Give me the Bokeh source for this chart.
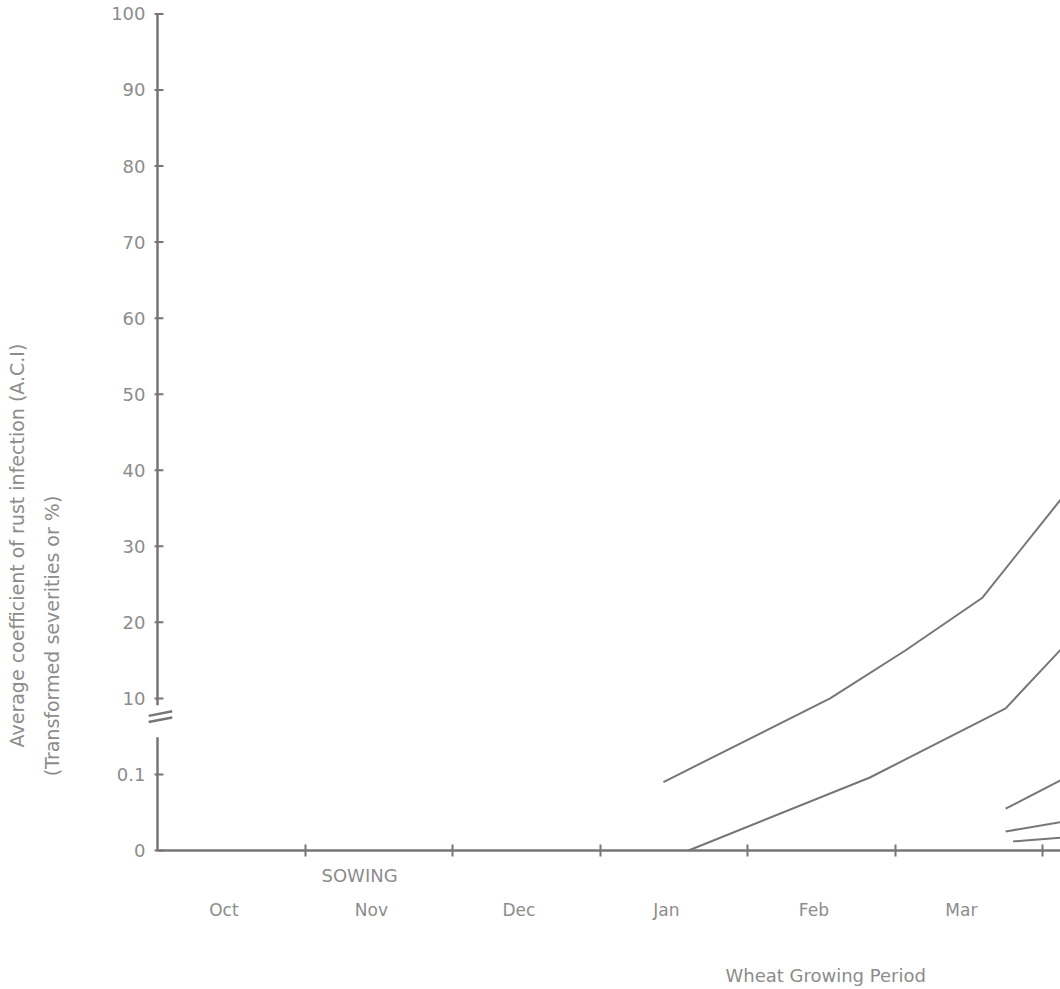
import numpy as np
from bokeh.plotting import figure
from bokeh.models import Range1d, FixedTicker, LinearAxis
from bokeh.embed import file_html
from bokeh.resources import INLINE

# ---------------- data ----------------
months = ["Oct", "Nov", "Dec", "Jan", "Feb", "Mar"]
month_bounds = [1, 2, 3, 4, 5, 6]          # month starts, in months since 1 Oct
y_tick_values = [0, 0.1, 10, 20, 30, 40, 50, 60, 70, 80, 90, 100]
y_tick_labels = ["0", "0.1", "10", "20", "30", "40", "50", "60", "70", "80", "90", "100"]
sowing_date = 1.37

s1_x = [3.43, 4.56, 5.07, 5.59, 6.20]
s1_y = [0.09, 10.0, 16.3, 23.2, 38.0]
s2_x = [3.60, 4.83, 5.75, 6.20]
s2_y = [0.0, 0.096, 8.7, 18.0]
s3_x = [5.75, 6.20]
s3_y = [0.055, 0.100]
s4_x = [5.75, 6.20]
s4_y = [0.025, 0.040]
s5_x = [5.80, 6.20]
s5_y = [0.012, 0.018]

y_title = "Average coefficient of rust infection (A.C.I)"
y_subtitle = "(Transformed severities or %)"
x_title = "Wheat Growing Period"

# broken axis: piecewise linear between the tick values
tick_index = np.arange(len(y_tick_values))
def to_disp(v):
    return np.interp(np.asarray(v, dtype=float), y_tick_values, tick_index)

GRAY = "#767676"
TXT = "#8c8c8c"
FONT = "DejaVu Sans"

X0, X1 = -0.0746, 6.122
Y0, Y1 = -0.0263, 11.045

p = figure(width=1060, height=989, x_range=Range1d(X0, X1), y_range=Range1d(Y0, Y1),
           output_backend="svg", toolbar_location=None,
           x_axis_location=None, y_axis_location=None,
           min_border_left=146, min_border_right=0, min_border_top=10, min_border_bottom=137)
p.outline_line_color = None
p.background_fill_color = "white"
p.border_fill_color = "white"
p.grid.visible = False


def label_axis(ax, size="17px"):
    ax.axis_line_color = None
    ax.major_tick_line_color = None
    ax.minor_tick_line_color = None
    ax.major_tick_in = 0
    ax.major_tick_out = 0
    ax.major_label_text_font = FONT
    ax.major_label_text_font_size = size
    ax.major_label_text_color = TXT
    return ax


# ---- axis lines drawn as glyphs (y axis has a break between 0.1 and 10)
brk_lo, brk_hi = 1.49, 1.91
top = float(tick_index[-1])
p.segment(x0=[0, 0, 0], y0=[0, brk_hi, 0], x1=[0, 0, X1], y1=[brk_lo, top, 0],
          line_color=GRAY, line_width=2.5)
p.segment(x0=[-0.06, -0.06], y0=[1.69, 1.77], x1=[0.10, 0.10], y1=[1.75, 1.83],
          line_color=GRAY, line_width=2.5)
ypos = to_disp(y_tick_values)
p.segment(x0=np.full(len(ypos), -0.02), y0=ypos, x1=np.full(len(ypos), 0.04), y1=ypos,
          line_color=GRAY, line_width=2)

# ---- y axis labels
yaxis = label_axis(LinearAxis(), "18px")
yaxis.ticker = FixedTicker(ticks=[int(t) for t in ypos])
yaxis.major_label_overrides = {int(t): lab for t, lab in zip(ypos, y_tick_labels)}
yaxis.major_label_standoff = 1
p.add_layout(yaxis, "left")

ysub = label_axis(LinearAxis(), "19px")
ysub.ticker = FixedTicker(ticks=[2.82])
ysub.major_label_overrides = {2.82: y_subtitle}
ysub.major_label_orientation = "vertical"
ysub.major_label_standoff = 45
p.add_layout(ysub, "left")

ytitle = label_axis(LinearAxis(), "19px")
ytitle.ticker = FixedTicker(ticks=[4.01])
ytitle.major_label_overrides = {4.01: y_title}
ytitle.major_label_orientation = "vertical"
ytitle.major_label_standoff = 10
p.add_layout(ytitle, "left")

# ---- x axis: tick marks at month starts, SOWING mark
xaxis = label_axis(LinearAxis(), "18px")
xaxis.ticker = FixedTicker(ticks=[sowing_date], minor_ticks=month_bounds)
xaxis.major_label_overrides = {sowing_date: "SOWING"}
xaxis.minor_tick_line_color = GRAY
xaxis.minor_tick_line_width = 2
xaxis.minor_tick_in = 8
xaxis.minor_tick_out = 4
xaxis.major_label_standoff = 8
p.add_layout(xaxis, "below")

mid = [i + 0.45 for i in range(len(months))]
xmonths = label_axis(LinearAxis(), "17px")
xmonths.ticker = FixedTicker(ticks=mid)
xmonths.major_label_overrides = {m: name for m, name in zip(mid, months)}
xmonths.major_label_standoff = 11
p.add_layout(xmonths, "below")

xtitle = label_axis(LinearAxis(), "18px")
xtitle.ticker = FixedTicker(ticks=[4.53])
xtitle.major_label_overrides = {4.53: x_title}
xtitle.major_label_standoff = 42
p.add_layout(xtitle, "below")

# ---- series
for xs, ys in [(s1_x, s1_y), (s2_x, s2_y), (s3_x, s3_y), (s4_x, s4_y), (s5_x, s5_y)]:
    p.line(xs, to_disp(ys), line_color=GRAY, line_width=2)

open("out.html", "w").write(file_html(p, INLINE))
